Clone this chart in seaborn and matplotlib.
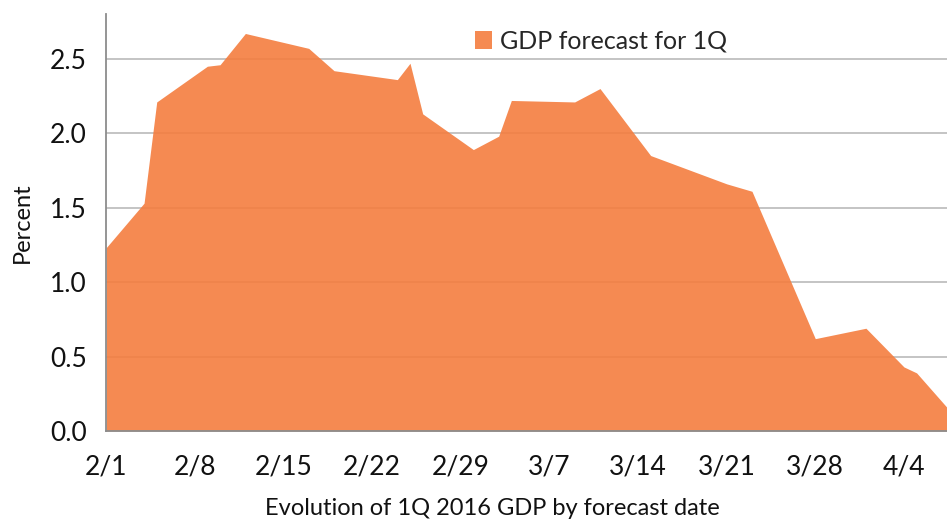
import pandas as pd
import numpy as np
import matplotlib
matplotlib.use('Agg')
import matplotlib.pyplot as plt
import seaborn as sns
from matplotlib.patches import Patch

# GDP forecast for 1Q 2016
dates = ['2016-02-01', '2016-02-04', '2016-02-05', '2016-02-09', '2016-02-10',
         '2016-02-12', '2016-02-17', '2016-02-19', '2016-02-24', '2016-02-25',
         '2016-02-26', '2016-03-01', '2016-03-03', '2016-03-04', '2016-03-09',
         '2016-03-11', '2016-03-15', '2016-03-21', '2016-03-23', '2016-03-28',
         '2016-04-01', '2016-04-04', '2016-04-05', '2016-04-08']
values = [1.23, 1.53, 2.21, 2.45, 2.46,
          2.67, 2.57, 2.42, 2.36, 2.47,
          2.13, 1.89, 1.98, 2.22, 2.21,
          2.30, 1.85, 1.66, 1.61, 0.62,
          0.69, 0.43, 0.39, 0.10]

tick_dates = ['2016-02-01', '2016-02-08', '2016-02-15', '2016-02-22', '2016-02-29',
              '2016-03-07', '2016-03-14', '2016-03-21', '2016-03-28', '2016-04-04']
tick_labels = ['2/1', '2/8', '2/15', '2/22', '2/29', '3/7', '3/14', '3/21', '3/28', '4/4']
y_ticks = [0.0, 0.5, 1.0, 1.5, 2.0, 2.5]

df = pd.DataFrame({'date': pd.to_datetime(dates), 'gdp': values})

sns.set_style('white')
plt.rcParams['font.family'] = ['Lato', 'DejaVu Sans']

fig = plt.figure(figsize=(9.47, 5.23), dpi=100)
ax = fig.add_axes([0.112, 0.176, 0.888, 0.797])

color = '#F47D3F'
sns.lineplot(data=df, x='date', y='gdp', color=color, linewidth=0, ax=ax, zorder=3)
ax.fill_between(df['date'], 0, df['gdp'], color=color, alpha=0.9, linewidth=0, zorder=3)

ax.set_xlim(pd.Timestamp('2016-02-01'), pd.Timestamp('2016-02-01') + pd.Timedelta(days=66.4))
ax.set_ylim(0, 2.8)

ax.set_yticks(y_ticks)
ax.set_yticklabels([f'{v:.1f}' for v in y_ticks])
ax.set_xticks(pd.to_datetime(tick_dates))
ax.set_xticklabels(tick_labels)

ax.grid(axis='y', color='#c4c4c4', linewidth=1.4, zorder=0)
ax.set_axisbelow(True)

for s in ['top', 'right']:
    ax.spines[s].set_visible(False)
for s in ['left', 'bottom']:
    ax.spines[s].set_color('#8c8c8c')
    ax.spines[s].set_linewidth(1.3)
    ax.spines[s].set_zorder(4)

ax.tick_params(axis='both', which='major', direction='out', length=7, width=1.3,
               color='#8c8c8c', labelsize=19, labelcolor='#111111')
ax.tick_params(axis='x', pad=10)
ax.tick_params(axis='y', pad=7)

ax.set_xlabel('Evolution of 1Q 2016 GDP by forecast date', fontsize=17, color='#111111')
ax.xaxis.set_label_coords(0.459, -0.16)
ax.set_ylabel('Percent', fontsize=17, color='#111111', labelpad=12)

handle = Patch(facecolor=color, alpha=0.9, edgecolor='none')
ax.legend([handle], ['GDP forecast for 1Q'], loc='center', bbox_to_anchor=(0.588, 0.935),
          frameon=False, fontsize=18, handlelength=0.7, handleheight=0.7, handletextpad=0.3)

fig.savefig('out.png', dpi=100)
